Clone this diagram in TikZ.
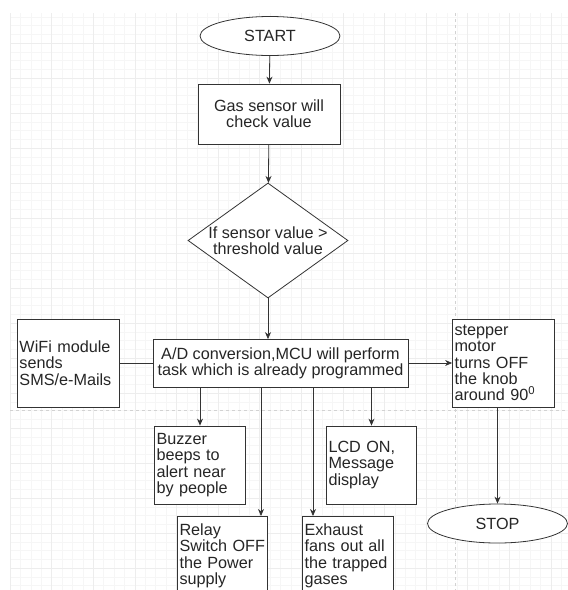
\documentclass[tikz,border=0pt]{standalone}
\usepackage{fontspec}
\setmainfont{Liberation Sans}
\usetikzlibrary{arrows.meta,shapes.geometric}
\begin{document}
\begin{tikzpicture}[x=1pt,y=-1pt,
minorgrid/.style = {gray!7, line width=0.5pt},
majorgrid/.style = {gray!14, line width=0.6pt},
pageline/.style = {gray!35, line width=0.8pt, dash pattern=on 3pt off 3pt},
box/.style = {draw=black!80, fill=white, line width=0.8pt, inner sep=2pt,
        text=black!85, font=\fontsize{16.2}{16.4}\selectfont},
cbox/.style 2 args = {box, align=center, minimum width=#1, minimum height=#2},
lbox/.style 2 args = {box, align=left, text width=#1-5pt, minimum height=#2},
term/.style = {box, ellipse, minimum width=140, minimum height=39},
cond/.style = {box, diamond, aspect=1.39, inner sep=-3pt, align=center,
        minimum width=160, minimum height=115},
flow/.style = {draw=black!80, line width=0.8pt, -{Stealth[length=7pt,width=6pt]}},
link/.style = {draw=black!80, line width=0.8pt}]

        \clip (0,0) rectangle (568,590);

        % background grid
        \begin{scope}
        \clip (10,13) rectangle (568,590);
        \foreach \gx in {0,...,55}
            \draw[minorgrid] (10+\gx*10.4,13) -- (10+\gx*10.4,590);
        \foreach \gy in {0,...,66}
            \draw[minorgrid] (10,8+\gy*8.75) -- (568,8+\gy*8.75);
        \foreach \gx in {0,...,14}
            \draw[majorgrid] (10+\gx*41.6,13) -- (10+\gx*41.6,590);
        \foreach \gy in {0,...,17}
            \draw[majorgrid] (10,8+\gy*35) -- (568,8+\gy*35);
        \end{scope}
        \draw[pageline] (455,13) -- (455,590);
        \draw[pageline] (10,410) -- (568,410);

        % main chain
        \node[term] (start) at (270,36) {START};
        \node[cbox={142}{60}] (gas) at (269,114) {Gas sensor will\\check value};
        \node[cond] (check) at (268,240.5) {If sensor value >\\threshold value};
        \node[cbox={255}{48}] (mcu) at (280.5,363.5)
            {A/D conversion,MCU will perform\\task which is already programmed};

        \node[lbox={103}{88}] (wifi) at (68.5,363) {WiFi module\\sends\\SMS/e-Mails};
        \node[lbox={103}{88}] (motor) at (503.5,363)
            {stepper\\motor\\turns OFF\\the knob\\around 90\textsuperscript{0}};
        \node[term] (stop) at (497.5,523.5) {STOP};

        % outputs
        \node[lbox={92}{78}] (buzzer) at (200,465) {Buzzer\\beeps to\\alert near\\by people};
        \node[lbox={91}{78}] (lcd) at (371.5,465) {LCD ON,\\Message\\display};
        \node[lbox={91}{80}] (relay) at (222.5,556) {Relay\\Switch OFF\\the Power\\supply};
        \node[lbox={92}{80}] (fan) at (348,556) {Exhaust\\fans out all\\the trapped\\gases};

        \coordinate (relay_in) at (261,516);
        \coordinate (fan_in) at (313,516);

        \draw[flow] (start) -- (gas);
        \draw[flow] (gas) -- (check);
        \draw[flow] (check) -- (check.south |- mcu.north);
        \draw[link] (wifi) -- (wifi.east -| mcu.west);
        \draw[flow] (mcu.east |- motor.west) -- (motor);
        \draw[flow] (motor.south -| stop.north) -- (stop);

        \draw[flow] (mcu.south -| buzzer.north) -- (buzzer);
        \draw[flow] (mcu.south -| relay_in) -- (relay_in);
        \draw[flow] (mcu.south -| fan_in) -- (fan_in);
        \draw[flow] (mcu.south -| lcd.north) -- (lcd);

\end{tikzpicture}
\end{document}
